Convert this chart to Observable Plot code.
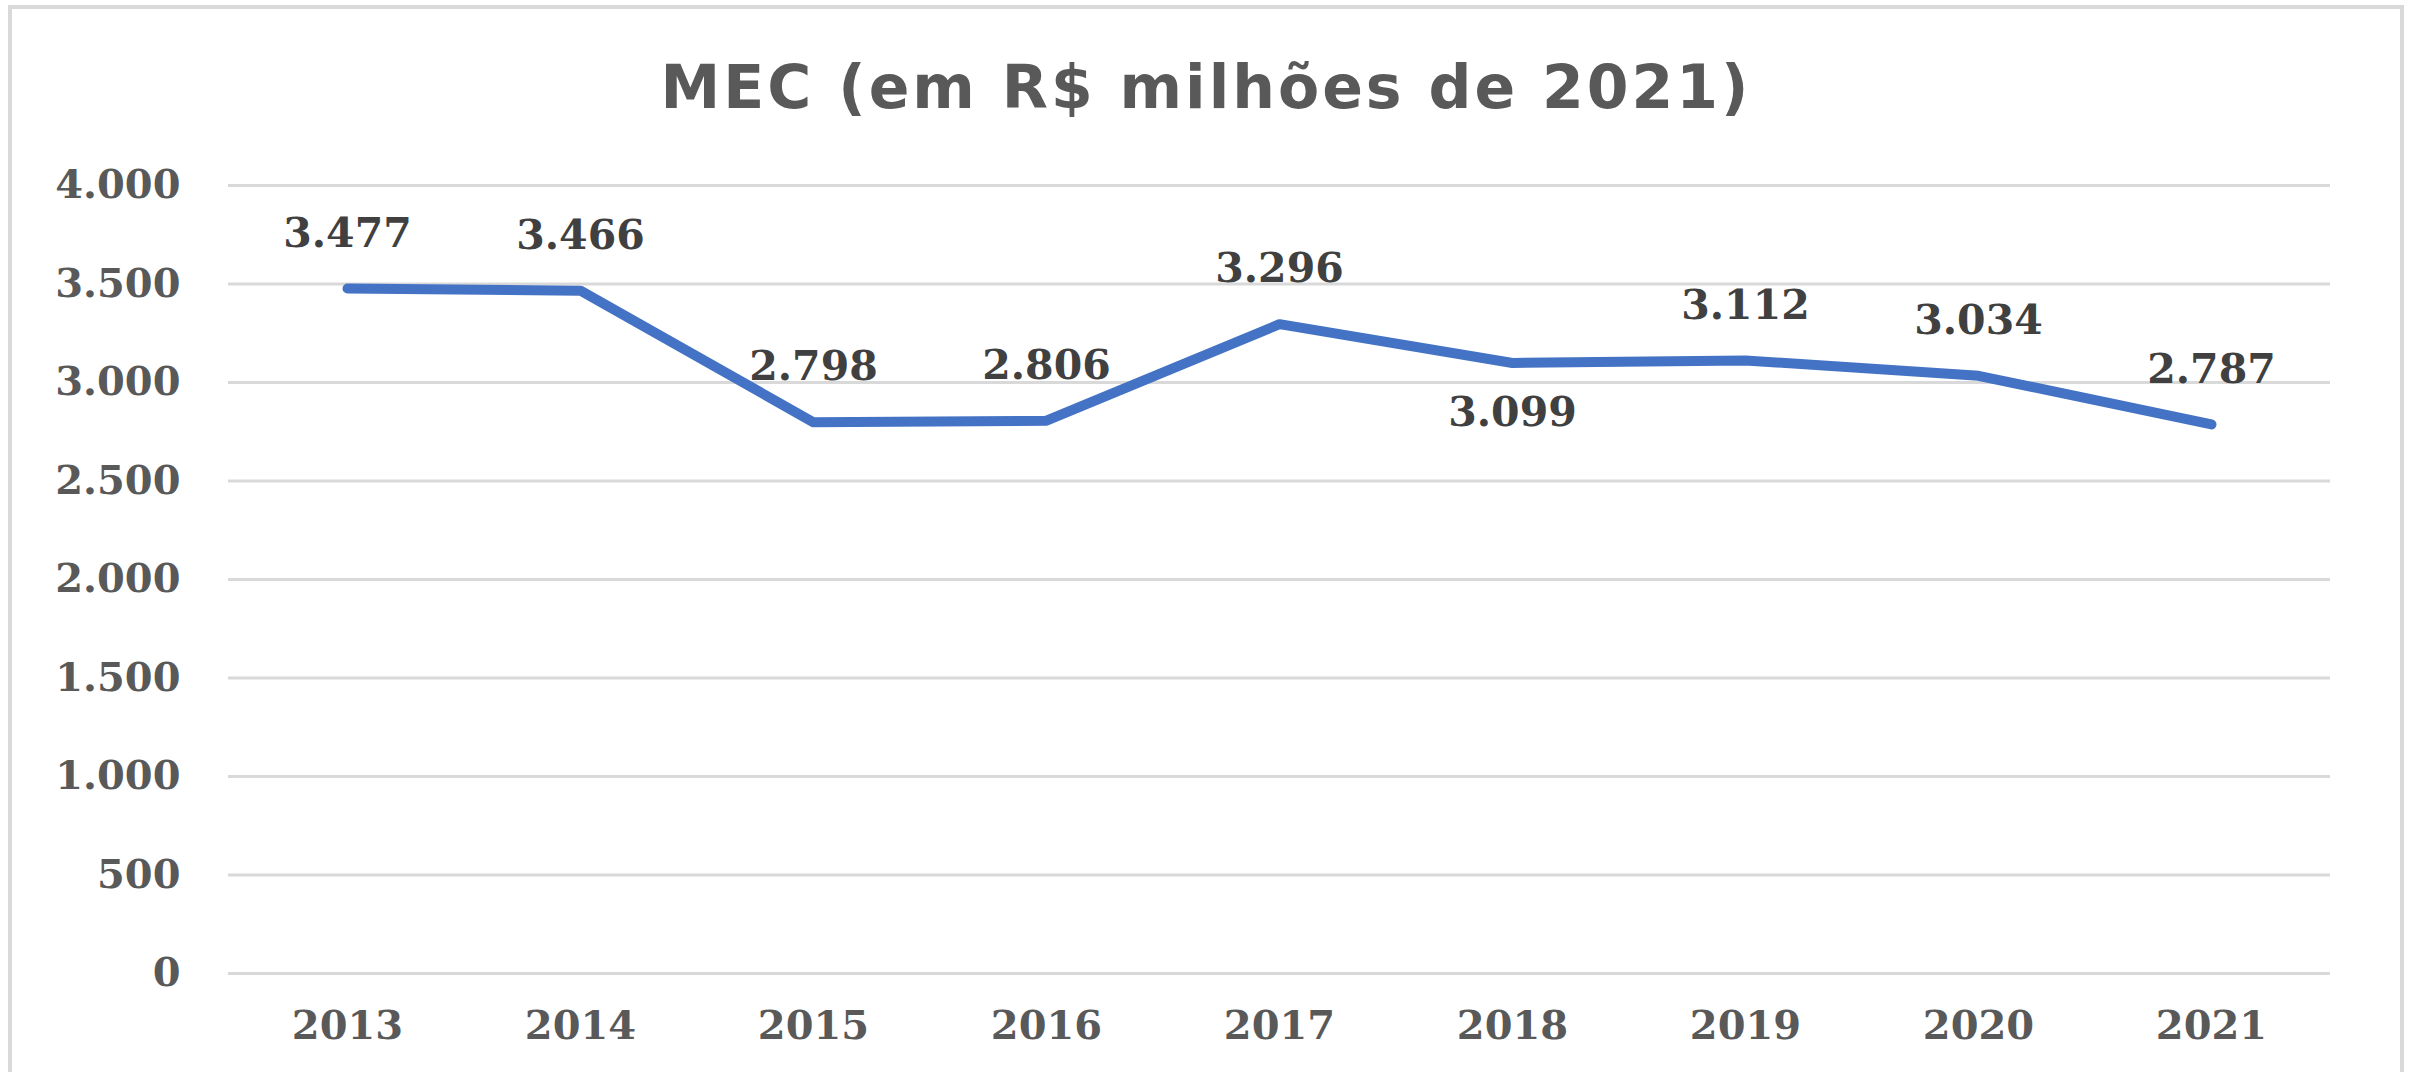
<!DOCTYPE html>
<html>
<head>
<meta charset="utf-8">
<script src="https://cdn.jsdelivr.net/npm/d3@7"></script>
<script src="https://cdn.jsdelivr.net/npm/@observablehq/plot@0.6"></script>
<style>
  html, body { margin: 0; padding: 0; background: #fff; }
  #page { position: relative; width: 2412px; height: 1072px; overflow: hidden; background: #fff; }
  #frame { position: absolute; left: 8px; top: 5px; width: 2388px; height: 1200px; border: 4px solid #d9d9d9; box-sizing: content-box; }
  #title { position: absolute; left: 0; top: 50px; width: 2412px; text-align: center;
           font-family: "DejaVu Sans", sans-serif; font-weight: bold; font-size: 60px; letter-spacing: 3px; line-height: 74px; color: #595959; }
  #chart { position: absolute; left: 0; top: 0; }
</style>
</head>
<body>
<div id="page">
  <div id="frame"></div>
  <div id="title">MEC (em R$ milhões de 2021)</div>
  <div id="chart"></div>
</div>
<script>
const years = ["2013", "2014", "2015", "2016", "2017", "2018", "2019", "2020", "2021"];
const values = [3477, 3466, 2798, 2806, 3296, 3099, 3112, 3034, 2787];
const labelBelow = ["2018"];
const yTicks = [0, 500, 1000, 1500, 2000, 2500, 3000, 3500, 4000];

const ptBR = d3.formatLocale({decimal: ",", thousands: ".", grouping: [3], currency: ["R$", ""]});
const fmt = ptBR.format(",d");

const data = years.map((y, i) => ({year: y, value: values[i]}));
const above = data.filter(d => !labelBelow.includes(d.year));
const below = data.filter(d => labelBelow.includes(d.year));

const chart = Plot.plot({
  width: 2412,
  height: 1072,
  marginLeft: 228,
  marginRight: 82,
  marginTop: 185,
  marginBottom: 99,
  style: {
    fontFamily: "'DejaVu Serif', serif",
    fontWeight: "bold",
    fontSize: "40px",
    color: "#595959",
    background: "transparent"
  },
  x: {type: "point", domain: years, padding: 0.5, label: null},
  y: {domain: [0, 4000], label: null},
  marks: [
    Plot.ruleY(yTicks, {stroke: "#d9d9d9", strokeWidth: 3}),
    Plot.axisY({ticks: yTicks, tickSize: 0, tickPadding: 48, tickFormat: fmt, fontSize: 40, label: null}),
    Plot.axisX({tickSize: 0, tickPadding: 37, fontSize: 40, label: null}),
    Plot.line(data, {x: "year", y: "value", stroke: "#4472C4", strokeWidth: 10, strokeLinecap: "round", strokeLinejoin: "round"}),
    Plot.text(above, {x: "year", y: "value", text: d => fmt(d.value), dy: -55, fill: "#404040", fontSize: 41, fontWeight: "bold"}),
    Plot.text(below, {x: "year", y: "value", text: d => fmt(d.value), dy: 50, fill: "#404040", fontSize: 41, fontWeight: "bold"})
  ]
});
document.getElementById("chart").appendChild(chart);
</script>
</body>
</html>
